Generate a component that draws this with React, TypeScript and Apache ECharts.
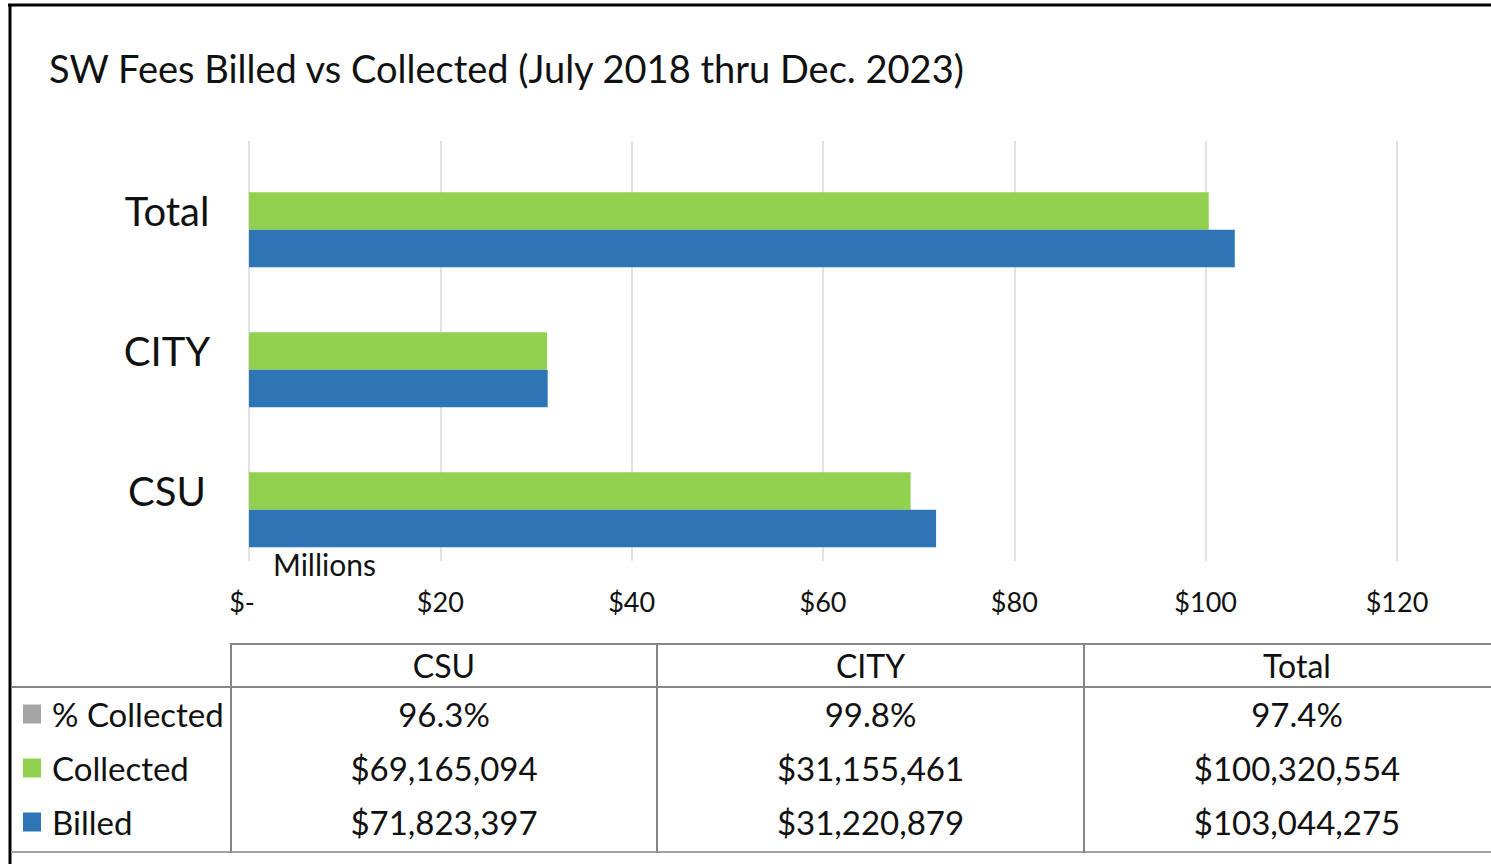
import React, { useEffect, useRef } from 'react';
import * as echarts from 'echarts';

const titleText = 'SW Fees Billed vs Collected (July 2018 thru Dec. 2023)';
const categories = ['CSU', 'CITY', 'Total'];
const billed = [71823397, 31220879, 103044275];
const collected = [69165094, 31155461, 100320554];
const pctCollected = [0.963, 0.998, 0.974];
const seriesNames = ['% Collected', 'Collected', 'Billed'];
const seriesColors = ['#a5a5a5', '#92d050', '#2e75b6'];
const axisMax = 120000000;
const axisStep = 20000000;
const unitLabel = 'Millions';

const FONT = 'Lato, "Open Sans", sans-serif';
const TEXT = '#111111';

const fmtMoney = (v: number) => '$' + v.toLocaleString('en-US');
const fmtPct = (v: number) => (v * 100).toFixed(1) + '%';

export default function App() {
  const ref = useRef<HTMLDivElement>(null);
  useEffect(() => {
    if (!ref.current) return;
    const chart = echarts.init(ref.current, undefined, { renderer: 'svg' });

    const rows = [
      { name: seriesNames[0], color: seriesColors[0], vals: pctCollected.map(fmtPct), y: 714 },
      { name: seriesNames[1], color: seriesColors[1], vals: collected.map(fmtMoney), y: 768 },
      { name: seriesNames[2], color: seriesColors[2], vals: billed.map(fmtMoney), y: 822 },
    ];
    const colEdges = [231, 657, 1084, 1511];
    const lineStyle = { stroke: '#858585', lineWidth: 2 };
    const graphics: any[] = [
      { type: 'line', shape: { x1: 8, y1: 5, x2: 1491, y2: 5 }, style: { stroke: '#000', lineWidth: 3 } },
      { type: 'line', shape: { x1: 10, y1: 4, x2: 10, y2: 864 }, style: { stroke: '#000', lineWidth: 3 } },
      {
        type: 'text', x: 49, y: 68,
        style: { text: titleText, fill: TEXT, fontSize: 38, fontFamily: FONT, align: 'left', verticalAlign: 'middle' },
      },
      {
        type: 'text', x: 273, y: 564,
        style: { text: unitLabel, fill: TEXT, fontSize: 30, fontFamily: FONT, align: 'left', verticalAlign: 'middle' },
      },
      // table lines
      { type: 'line', shape: { x1: 231, y1: 644, x2: 1491, y2: 644 }, style: lineStyle },
      { type: 'line', shape: { x1: 11, y1: 687, x2: 1491, y2: 687 }, style: lineStyle },
      { type: 'line', shape: { x1: 11, y1: 852, x2: 1491, y2: 852 }, style: { stroke: '#a0a0a0', lineWidth: 2 } },
    ];
    colEdges.slice(0, 3).forEach((x) => {
      graphics.push({ type: 'line', shape: { x1: x, y1: 643, x2: x, y2: 853 }, style: lineStyle });
    });
    categories.forEach((c, i) => {
      const cx = i === 2 ? 1297 : (colEdges[i] + colEdges[i + 1]) / 2;
      graphics.push({
        type: 'text', x: cx, y: 665,
        style: { text: c, fill: TEXT, fontSize: 32, fontFamily: FONT, align: 'center', verticalAlign: 'middle' },
      });
      rows.forEach((r) => {
        graphics.push({
          type: 'text', x: cx, y: r.y,
          style: { text: r.vals[i], fill: TEXT, fontSize: 33, fontFamily: FONT, align: 'center', verticalAlign: 'middle' },
        });
      });
    });
    rows.forEach((r) => {
      graphics.push({ type: 'rect', shape: { x: 23, y: r.y - 9.5, width: 18, height: 19 }, style: { fill: r.color } });
      graphics.push({
        type: 'text', x: 52, y: r.y,
        style: { text: r.name, fill: TEXT, fontSize: 33, fontFamily: FONT, align: 'left', verticalAlign: 'middle' },
      });
    });

    chart.setOption({
      animation: false,
      backgroundColor: '#ffffff',
      grid: { left: 249, right: 94, top: 141, bottom: 303, containLabel: false, outerBoundsMode: 'none' } as any,
      xAxis: {
        type: 'value',
        min: 0,
        max: axisMax,
        interval: axisStep,
        axisLine: { show: false },
        axisTick: { show: false },
        splitLine: { show: true, lineStyle: { color: '#d9d9d9', width: 1.5 } },
        axisLabel: {
          margin: 27,
          fontSize: 27,
          fontFamily: FONT,
          color: TEXT,
          formatter: (v: number) => (v === 0 ? '{z|$-}' : '$' + v / 1000000),
          rich: { z: { fontSize: 27, fontFamily: FONT, color: TEXT, padding: [0, 14, 0, 0] } },
        },
      },
      yAxis: {
        type: 'category',
        data: categories,
        axisLine: { show: false },
        axisTick: { show: false },
        splitLine: { show: false },
        axisLabel: { fontSize: 40, fontFamily: FONT, color: TEXT, align: 'center', margin: 82 },
      },
      series: [
        { name: seriesNames[0], type: 'bar', data: pctCollected, barWidth: 37.5, barGap: '0%', itemStyle: { color: seriesColors[0] }, silent: true },
        { name: seriesNames[1], type: 'bar', data: collected, barWidth: 37.5, barGap: '0%', itemStyle: { color: seriesColors[1] }, silent: true },
        { name: seriesNames[2], type: 'bar', data: billed, barWidth: 37.5, barGap: '0%', itemStyle: { color: seriesColors[2] }, silent: true },
      ],
      graphic: graphics,
    });
    return () => chart.dispose();
  }, []);
  return <div ref={ref} style={{ position: 'absolute', left: 0, top: 0, width: 1491, height: 864 }} />;
}
